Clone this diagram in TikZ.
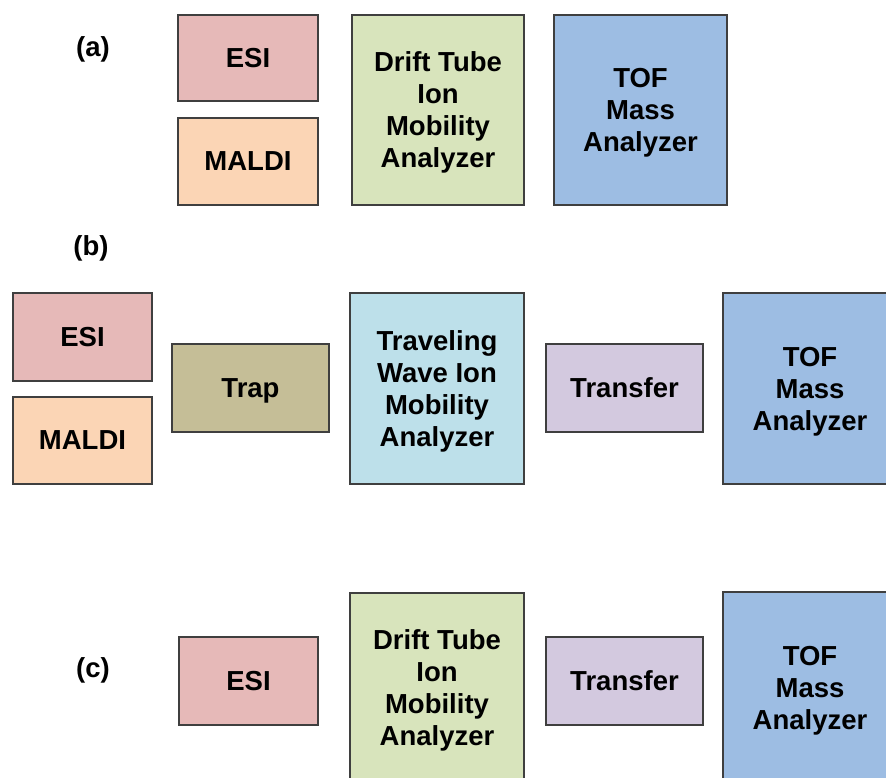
\documentclass[tikz,border=0pt]{standalone}
\usepackage{fontspec}
\setmainfont{Liberation Sans}
\definecolor{esic}{HTML}{E6B9B8}
\definecolor{maldic}{HTML}{FBD5B5}
\definecolor{driftc}{HTML}{D8E4BC}
\definecolor{tofc}{HTML}{9DBDE3}
\definecolor{trapc}{HTML}{C5BE97}
\definecolor{twc}{HTML}{BDE0EA}
\definecolor{transc}{HTML}{D3C9DF}
\definecolor{edgec}{HTML}{3F3F3F}
\begin{document}
\begin{tikzpicture}[x=1pt,y=-1pt,
  blk/.style={draw=edgec, line width=1.4pt, rectangle, inner sep=0pt, align=center,
    text depth=0pt, font=\fontsize{27.5}{32}\selectfont\bfseries},
  lbl/.style={inner sep=0pt, font=\fontsize{27.5}{32}\selectfont\bfseries}]
\clip (0,0) rectangle (886,778);
\fill[white] (0,0) rectangle (886,778);
% (a)
\node[lbl] (la) at (93,49) {(a)};
\node[blk, fill=esic, minimum width=140pt, minimum height=86pt] (aesi) at (248,58) {ESI};
\node[blk, fill=maldic, minimum width=140pt, minimum height=87pt] (amaldi) at (248,161.5) {MALDI};
\node[blk, fill=driftc, minimum width=172pt, minimum height=190pt] (adrift) at (438,110) {Drift Tube\\Ion\\Mobility\\Analyzer};
\node[blk, fill=tofc, minimum width=173pt, minimum height=190pt] (atof) at (640.5,110) {TOF\\Mass\\Analyzer};
% (b)
\node[lbl] (lb) at (91,248) {(b)};
\node[blk, fill=esic, minimum width=139pt, minimum height=88pt] (besi) at (82.5,337) {ESI};
\node[blk, fill=maldic, minimum width=139pt, minimum height=87pt] (bmaldi) at (82.5,440.5) {MALDI};
\node[blk, fill=trapc, minimum width=157pt, minimum height=88pt] (btrap) at (250.5,388) {Trap};
\node[blk, fill=twc, minimum width=174pt, minimum height=191pt] (btw) at (437,388.5) {Traveling\\Wave Ion\\Mobility\\Analyzer};
\node[blk, fill=transc, minimum width=157pt, minimum height=88pt] (btrans) at (624.5,388) {Transfer};
\node[blk, fill=tofc, minimum width=174pt, minimum height=191pt] (btof) at (810,388.5) {TOF\\Mass\\Analyzer};
% (c)
\node[lbl] (lc) at (93,670) {(c)};
\node[blk, fill=esic, minimum width=139pt, minimum height=88pt] (cesi) at (248.5,681) {ESI};
\node[blk, fill=driftc, minimum width=174pt, minimum height=190pt] (cdrift) at (437,688) {Drift Tube\\Ion\\Mobility\\Analyzer};
\node[blk, fill=transc, minimum width=157pt, minimum height=88pt] (ctrans) at (624.5,681) {Transfer};
\node[blk, fill=tofc, minimum width=174pt, minimum height=192pt] (ctof) at (810,688) {TOF\\Mass\\Analyzer};
\end{tikzpicture}
\end{document}
